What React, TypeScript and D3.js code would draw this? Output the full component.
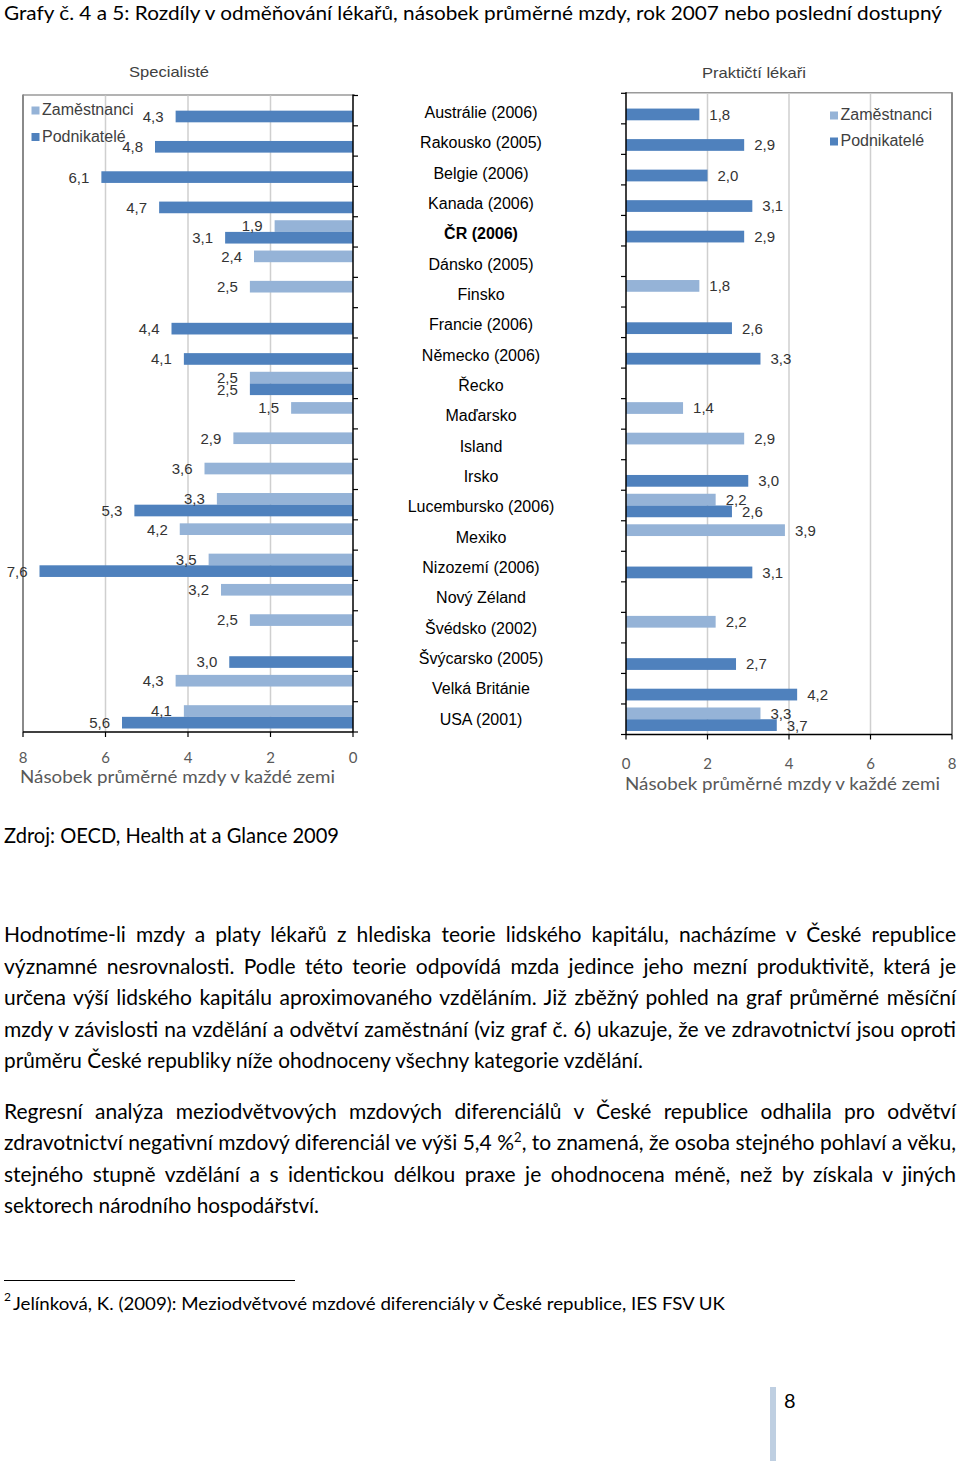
import React, { useLayoutEffect, useRef } from "react";
import * as d3 from "d3";

const categories = [
  "Austrálie (2006)", "Rakousko (2005)", "Belgie (2006)", "Kanada (2006)", "ČR (2006)",
  "Dánsko (2005)", "Finsko", "Francie (2006)", "Německo (2006)", "Řecko", "Maďarsko",
  "Island", "Irsko", "Lucembursko (2006)", "Mexiko", "Nizozemí (2006)", "Nový Zéland",
  "Švédsko (2002)", "Švýcarsko (2005)", "Velká Británie", "USA (2001)",
];
const seriesNames = ["Zaměstnanci", "Podnikatelé"];
const specZam = [null, null, null, null, 1.9, 2.4, 2.5, null, null, 2.5, 1.5, 2.9, 3.6, 3.3, 4.2, 3.5, 3.2, 2.5, null, 4.3, 4.1];
const specPod = [4.3, 4.8, 6.1, 4.7, 3.1, null, null, 4.4, 4.1, 2.5, null, null, null, 5.3, null, 7.6, null, null, 3.0, null, 5.6];
const praktZam = [null, null, null, null, null, null, 1.8, null, null, null, 1.4, 2.9, null, 2.2, 3.9, null, null, 2.2, null, null, 3.3];
const praktPod = [1.8, 2.9, 2.0, 3.1, 2.9, null, null, 2.6, 3.3, null, null, null, 3.0, 2.6, null, 3.1, null, null, 2.7, 4.2, 3.7];
const xTicks = [0, 2, 4, 6, 8];

const titleText = "Grafy č. 4 a 5: Rozdíly v odměňování lékařů, násobek průměrné mzdy, rok 2007 nebo poslední dostupný";
const sourceText = "Zdroj: OECD, Health at a Glance 2009";
const para1 = [
  "Hodnotíme-li mzdy a platy lékařů z hlediska teorie lidského kapitálu, nacházíme v České republice",
  "významné nesrovnalosti. Podle této teorie odpovídá mzda jedince jeho mezní produktivitě, která je",
  "určena výší lidského kapitálu aproximovaného vzděláním. Již zběžný pohled na graf průměrné měsíční",
  "mzdy v závislosti na vzdělání a odvětví zaměstnání (viz graf č. 6) ukazuje, že ve zdravotnictví jsou oproti",
  "průměru České republiky níže ohodnoceny všechny kategorie vzdělání.",
];
const para2 = [
  "Regresní analýza meziodvětvových mzdových diferenciálů v České republice odhalila pro odvětví",
  "zdravotnictví negativní mzdový diferenciál ve výši 5,4 %|2|, to znamená, že osoba stejného pohlaví a věku,",
  "stejného stupně vzdělání a s identickou délkou praxe je ohodnocena méně, než by získala v jiných",
  "sektorech národního hospodářství.",
];
const footnote = "Jelínková, K. (2009): Meziodvětvové mzdové diferenciály v České republice, IES FSV UK";

const DARK = "#4F81BD";
const LIGHT = "#95B3D7";
const fmt = (v: number) => d3.format(".1f")(v).replace(".", ",");
const CHART_FONT = "'Liberation Sans', Arial, sans-serif";
const BODY_FONT = "Lato, 'Open Sans', sans-serif";

function Chart({ side, zam, pod, title }: { side: "left" | "right"; zam: (number | null)[]; pod: (number | null)[]; title: string }) {
  const left = side === "left";
  const x0 = left ? 353 : 626;
  const x8 = left ? 23 : 952;
  const top = left ? 95.5 : 93.3;
  const bottom = left ? 732 : 734.5;
  const x = d3.scaleLinear().domain([0, 8]).range([x0, x8]);
  const y = d3.scaleBand<string>().domain(categories).range([top, bottom]).padding(0);
  const ys = d3.scaleBand<string>().domain(seriesNames).range([0, y.bandwidth()]).paddingInner(0).paddingOuter(0.3);
  const series = [
    { name: seriesNames[0], values: zam, color: LIGHT },
    { name: seriesNames[1], values: pod, color: DARK },
  ];
  const boundaries = d3.range(categories.length + 1).map((i) => top + i * y.step());
  const titleX = left ? 169 : 754;
  const legendX = left ? 31.5 : 830;
  const legendY = left ? [115, 141.5] : [120, 146];
  const tickY = left ? 763 : 769;
  const axisTitleY = left ? 782.5 : 790;
  const axisTitleX = left ? 20 : 625;

  return (
    <g>
      <text x={titleX} y={left ? 77.3 : 78.3} textAnchor="middle" fontFamily={CHART_FONT} fontSize={15} fill="#404040"
        textLength={left ? 80 : 104} lengthAdjust="spacingAndGlyphs">{title}</text>
      <line x1={Math.min(x0, x8)} x2={Math.max(x0, x8) + (left ? 2 : 0)} y1={top - 0.5} y2={top - 0.5} stroke="#9a9a9a" strokeWidth={1.5} />
      <line x1={x8} x2={x8} y1={top - 1} y2={bottom} stroke="#8a8a8a" strokeWidth={2} />
      {[2, 4, 6].map((t) => (
        <line key={t} x1={x(t)} x2={x(t)} y1={top} y2={bottom} stroke="#cfcfcf" strokeWidth={1.5} />
      ))}
      {series.map((s) =>
        categories.map((c, i) => {
          const v = s.values[i];
          if (v == null) return null;
          const by = (y(c) as number) + (ys(s.name) as number);
          const bx = Math.min(x(0), x(v));
          return <rect key={s.name + c} x={bx} y={by} width={Math.abs(x(v) - x(0))} height={ys.bandwidth()} fill={s.color} />;
        })
      )}
      {series.map((s) =>
        categories.map((c, i) => {
          const v = s.values[i];
          if (v == null) return null;
          const cy = (y(c) as number) + (ys(s.name) as number) + ys.bandwidth() / 2;
          return (
            <text key={"l" + s.name + c} x={left ? x(v) - 12 : x(v) + 10} y={cy} dy="0.36em"
              textAnchor={left ? "end" : "start"} fontFamily={CHART_FONT} fontSize={15} fill="#333">{fmt(v)}</text>
          );
        })
      )}
      <line x1={x0} x2={x0} y1={top - 1} y2={bottom} stroke="#000" strokeWidth={1.5} />
      {boundaries.map((b, i) => (
        <line key={"b" + i} x1={x0} x2={left ? x0 + 5 : x0 - 5} y1={b} y2={b} stroke="#000" strokeWidth={1.2} />
      ))}
      <line x1={Math.min(x0, x8)} x2={Math.max(x0, x8)} y1={bottom} y2={bottom} stroke="#000" strokeWidth={1.5} />
      {xTicks.map((t) => (
        <g key={"t" + t}>
          <line x1={x(t)} x2={x(t)} y1={bottom} y2={bottom + 5} stroke="#000" strokeWidth={1.2} />
          <text x={x(t)} y={tickY} textAnchor="middle" fontFamily={BODY_FONT} fontSize={15} fill="#595959">{t}</text>
        </g>
      ))}
      <text x={axisTitleX} y={axisTitleY} fontFamily={BODY_FONT} fontSize={18} fill="#595959" textLength={315} lengthAdjust="spacingAndGlyphs">
        Násobek průměrné mzdy v každé zemi
      </text>
      {series.map((s, i) => (
        <g key={"lg" + s.name}>
          <rect x={legendX} y={legendY[i] - 8.5} width={8} height={8} fill={s.color} />
          <text x={legendX + 10.5} y={legendY[i]} fontFamily={CHART_FONT} fontSize={16} fill="#404040">{s.name}</text>
        </g>
      ))}
    </g>
  );
}

const JUSTIFY_W = 952;

function BodyLine({ text, x, y, justify, width, size }: { text: string; x: number; y: number; justify: boolean; width: number; size: number }) {
  const ref = useRef<SVGTextElement>(null);
  useLayoutEffect(() => {
    const el = ref.current;
    if (!el) return;
    el.removeAttribute("textLength");
    el.removeAttribute("lengthAdjust");
    el.setAttribute("word-spacing", "0");
    const natural = el.getComputedTextLength();
    const spaces = (text.replace(/\|/g, "").match(/ /g) || []).length;
    if (justify && natural < width && spaces > 0) {
      el.setAttribute("word-spacing", String((width - natural) / spaces));
    } else {
      el.setAttribute("textLength", String(width));
      el.setAttribute("lengthAdjust", "spacingAndGlyphs");
    }
  }, [text, width, justify]);
  const parts = text.split("|");
  return (
    <text ref={ref} x={x} y={y} fontFamily={BODY_FONT} fontSize={size} fill="#000" style={{ whiteSpace: "pre" }}>
      {parts.length === 1 ? text : [
        <tspan key="a">{parts[0]}</tspan>,
        <tspan key="b" fontSize={13} dy={-8}>{parts[1]}</tspan>,
        <tspan key="c" dy={8}>{parts[2]}</tspan>,
      ]}
    </text>
  );
}

export default function App() {
  const yC = d3.scaleBand<string>().domain(categories).range([96, 733]).padding(0);
  const p1Base = [942, 973.5, 1005, 1036.5, 1068];
  const p2Base = [1118.5, 1150, 1181.5, 1213];
  return (
    <svg width={960} height={1469} style={{ position: "absolute", left: 0, top: 0, background: "#fff" }}>
      <rect width={960} height={1469} fill="#fff" />
      <text x={4} y={19.5} fontFamily={BODY_FONT} fontSize={20} fill="#000" textLength={938} lengthAdjust="spacingAndGlyphs">{titleText}</text>

      <Chart side="left" zam={specZam} pod={specPod} title="Specialisté" />
      <Chart side="right" zam={praktZam} pod={praktPod} title="Praktičtí lékaři" />

      {categories.map((c) => (
        <text key={c} x={481} y={(yC(c) as number) + yC.bandwidth() / 2 + 1} dy="0.36em" textAnchor="middle"
          fontFamily={CHART_FONT} fontSize={16} fontWeight={c.startsWith("ČR") ? "bold" : "normal"} fill="#000">{c}</text>
      ))}

      <text x={4} y={843} fontFamily={BODY_FONT} fontSize={21} fill="#000" textLength={335} lengthAdjust="spacingAndGlyphs">{sourceText}</text>

      {para1.map((l, i) => (
        <BodyLine key={"p1" + i} text={l} x={4} y={p1Base[i]} size={21}
          justify={i !== para1.length - 1} width={i === para1.length - 1 ? 639 : JUSTIFY_W} />
      ))}
      {para2.map((l, i) => (
        <BodyLine key={"p2" + i} text={l} x={4} y={p2Base[i]} size={21}
          justify={i !== para2.length - 1} width={i === para2.length - 1 ? 315 : JUSTIFY_W} />
      ))}

      <line x1={4} x2={295} y1={1280.5} y2={1280.5} stroke="#000" strokeWidth={1} />
      <text x={4} y={1301} fontFamily={BODY_FONT} fontSize={12} fill="#000">2</text>
      <text x={13} y={1310} fontFamily={BODY_FONT} fontSize={18} fill="#000" textLength={712} lengthAdjust="spacingAndGlyphs">{footnote}</text>

      {[771, 773, 775].map((lx) => (
        <line key={lx} x1={lx} x2={lx} y1={1387} y2={1461} stroke="#7f9fc4" strokeWidth={1} />
      ))}
      <text x={784} y={1408} fontFamily={BODY_FONT} fontSize={20} fill="#000">8</text>
    </svg>
  );
}
